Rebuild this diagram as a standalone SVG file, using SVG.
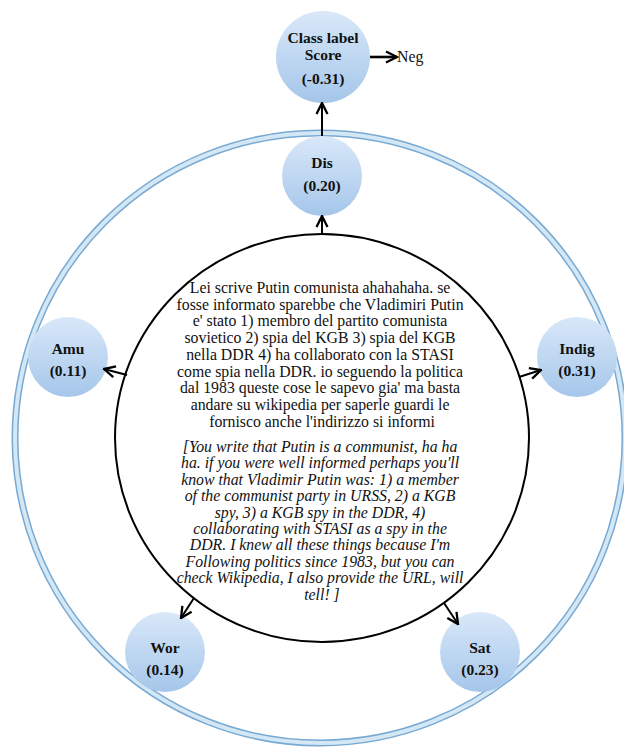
<svg xmlns="http://www.w3.org/2000/svg" width="624" height="753" viewBox="0 0 624 753">
<defs>
<linearGradient id="nodeFill" x1="0" y1="0" x2="0" y2="1">
<stop offset="0" stop-color="#d9e8f9"/>
<stop offset="1" stop-color="#a5c6ea"/>
</linearGradient>
<marker id="arr" viewBox="0 0 14 14" refX="12.5" refY="7" markerWidth="14" markerHeight="14" markerUnits="userSpaceOnUse" orient="auto">
<path d="M1.5,1.5 L12.5,7 L1.5,12.5" fill="none" stroke="#000" stroke-width="2.3"/>
</marker>
</defs>
<style>
.node{fill:url(#nodeFill);stroke:none}
.lbl{font-family:"Liberation Serif","Times New Roman",serif;font-weight:bold;font-size:15.5px;fill:#111;text-anchor:middle}
.body{font-family:"Liberation Serif","Times New Roman",serif;font-size:15.8px;fill:#111;text-anchor:middle}
.it{font-style:italic;font-size:15.8px}
.conn{stroke:#000;stroke-width:2;fill:none;marker-end:url(#arr)}
</style>
<rect width="624" height="753" fill="#fff"/>
<g id="outer-ring">
<circle cx="320" cy="438" r="305" fill="none" stroke="#78a9d3" stroke-width="7"/>
<circle cx="320" cy="438" r="305" fill="none" stroke="#d3e7f4" stroke-width="4"/>
</g>
<g id="center">
<ellipse cx="322" cy="438" rx="207" ry="204" fill="#fff" stroke="#000" stroke-width="2"/>
<text class="body">
<tspan x="322" y="293">Lei scrive  Putin comunista ahahahaha. se</tspan>
<tspan x="322" y="309.7">fosse informato sparebbe che Vladimiri Putin</tspan>
<tspan x="322" y="326.4">e' stato 1) membro del partito comunista</tspan>
<tspan x="322" y="343.1">sovietico 2) spia del KGB 3) spia del KGB</tspan>
<tspan x="322" y="359.8">nella DDR 4) ha collaborato con la STASI</tspan>
<tspan x="322" y="376.5">come spia nella DDR. io seguendo la politica</tspan>
<tspan x="322" y="393.2">dal 1983 queste cose le sapevo gia' ma basta</tspan>
<tspan x="322" y="409.9">andare su wikipedia per saperle guardi le</tspan>
<tspan x="322" y="426.6">fornisco anche l'indirizzo si informi</tspan>
</text>
<text class="body it">
<tspan x="322" y="452">[You write that Putin is a communist, ha ha</tspan>
<tspan x="322" y="468.4">ha. if you were well informed perhaps you'll</tspan>
<tspan x="322" y="484.8">know that Vladimir Putin was: 1) a member</tspan>
<tspan x="322" y="501.2">of the communist party in URSS, 2) a KGB</tspan>
<tspan x="322" y="517.6">spy, 3) a KGB spy in the DDR, 4)</tspan>
<tspan x="322" y="534">collaborating with STASI as a spy in the</tspan>
<tspan x="322" y="550.4">DDR. I knew all these things because I'm</tspan>
<tspan x="322" y="566.8">Following politics since 1983, but you can</tspan>
<tspan x="322" y="583.2">check Wikipedia, I also provide the URL, will</tspan>
<tspan x="322" y="599.6">tell! ]</tspan>
</text>
</g>
<g id="class-label">
<ellipse class="node" cx="323" cy="57" rx="47" ry="46"/>
<text class="lbl"><tspan x="323" y="43">Class label</tspan><tspan x="323" y="60">Score</tspan><tspan x="323" y="84">(-0.31)</tspan></text>
</g>
<g id="neg">
<text x="397" y="62" class="body" style="text-anchor:start">Neg</text>
</g>
<g id="dis">
<circle class="node" cx="322" cy="176" r="40"/>
<text class="lbl"><tspan x="322" y="168">Dis</tspan><tspan x="322" y="191">(0.20)</tspan></text>
</g>
<g id="amu">
<circle class="node" cx="68" cy="357" r="40"/>
<text class="lbl"><tspan x="68" y="354">Amu</tspan><tspan x="68" y="376">(0.11)</tspan></text>
</g>
<g id="indig">
<circle class="node" cx="577" cy="357" r="40"/>
<text class="lbl"><tspan x="577" y="354">Indig</tspan><tspan x="577" y="376">(0.31)</tspan></text>
</g>
<g id="wor">
<circle class="node" cx="165" cy="652" r="40"/>
<text class="lbl"><tspan x="165" y="653">Wor</tspan><tspan x="165" y="675">(0.14)</tspan></text>
</g>
<g id="sat">
<circle class="node" cx="480" cy="652" r="40"/>
<text class="lbl"><tspan x="480" y="653">Sat</tspan><tspan x="480" y="675">(0.23)</tspan></text>
</g>
<g id="connectors">
<line class="conn" x1="322" y1="136" x2="322" y2="103"/>
<line class="conn" x1="370" y1="57" x2="397" y2="57" style="stroke-width:2.6"/>
<line class="conn" x1="322" y1="234" x2="322" y2="216"/>
<line class="conn" x1="127" y1="375" x2="104" y2="369"/>
<line class="conn" x1="519" y1="377" x2="541" y2="370"/>
<line class="conn" x1="194" y1="598" x2="181" y2="618"/>
<line class="conn" x1="444" y1="603" x2="458" y2="624"/>
</g>
</svg>
